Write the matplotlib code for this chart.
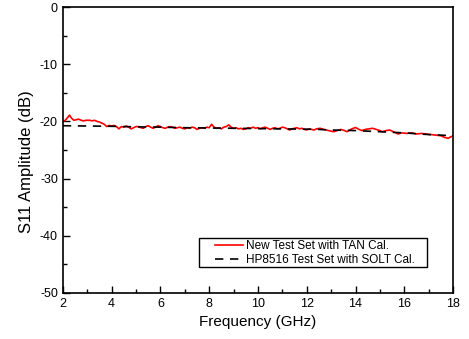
import matplotlib
matplotlib.use("Agg")
import matplotlib.pyplot as plt
from matplotlib.ticker import MultipleLocator
from matplotlib.patches import Rectangle

plt.rcParams['font.family'] = ['Liberation Sans', 'DejaVu Sans']
plt.rcParams['axes.unicode_minus'] = False

freq_tan = [2.0, 2.1, 2.2, 2.27, 2.35, 2.45, 2.55, 2.65, 2.75, 2.85, 2.95, 3.1, 3.2, 3.3,
            3.4, 3.5, 3.6, 3.7, 3.8, 3.9, 4.0, 4.1, 4.2, 4.3, 4.4, 4.5, 4.6, 4.7, 4.8, 4.9,
            5.0, 5.1, 5.2, 5.3, 5.4, 5.5, 5.6, 5.7, 5.8, 5.9, 6.0, 6.1, 6.2, 6.3, 6.4, 6.5,
            6.6, 6.7, 6.8, 6.9, 7.0, 7.1, 7.2, 7.3, 7.4, 7.5, 7.6, 7.7, 7.8, 7.9, 8.0, 8.1,
            8.2, 8.3, 8.4, 8.5, 8.6, 8.7, 8.8, 8.9, 9.0, 9.1, 9.2, 9.3, 9.4, 9.5, 9.6, 9.7,
            9.8, 9.9, 10.0, 10.1, 10.2, 10.3, 10.4, 10.5, 10.6, 10.7, 10.8, 10.9, 11.0,
            11.1, 11.2, 11.3, 11.4, 11.5, 11.6, 11.7, 11.8, 11.9, 12.0, 12.1, 12.2, 12.3,
            12.4, 12.55, 12.7, 12.9, 13.1, 13.25, 13.4, 13.55, 13.65, 13.8, 14.0, 14.1,
            14.25, 14.4, 14.55, 14.7, 14.85, 15.0, 15.1, 15.25, 15.4, 15.55, 15.75, 15.9,
            16.1, 16.3, 16.5, 16.7, 16.9, 17.1, 17.3, 17.5, 17.65, 17.8, 17.9, 18.0]
s11_tan = [-20.0, -19.8, -19.3, -18.9, -19.4, -19.8, -19.7, -19.6, -19.8, -19.9, -19.8,
           -19.8, -19.9, -19.8, -20.0, -20.1, -20.3, -20.5, -20.9, -20.7, -20.8, -20.7,
           -20.9, -21.3, -20.9, -21.0, -20.8, -21.0, -21.3, -21.1, -20.9, -20.9, -21.1,
           -21.2, -20.9, -20.75, -21.0, -21.2, -21.0, -20.75, -20.9, -21.1, -21.2, -21.0,
           -20.9, -21.0, -21.2, -21.1, -21.0, -21.2, -21.3, -21.1, -21.2, -21.0, -21.1,
           -21.4, -21.2, -21.1, -21.2, -21.0, -21.1, -20.5, -21.0, -21.2, -21.1, -21.3,
           -21.0, -20.9, -20.6, -21.0, -21.2, -21.1, -21.3, -21.2, -21.4, -21.3, -21.1,
           -21.2, -21.0, -21.2, -21.1, -21.3, -21.1, -21.0, -21.2, -21.4, -21.2, -21.1,
           -21.3, -21.2, -21.0, -21.1, -21.3, -21.5, -21.3, -21.2, -21.1, -21.3, -21.2,
           -21.4, -21.5, -21.3, -21.4, -21.5, -21.3, -21.2, -21.4, -21.6, -21.8, -21.6,
           -21.4, -21.6, -21.8, -21.4, -21.05, -21.3, -21.6, -21.4, -21.3, -21.2, -21.4,
           -21.6, -21.8, -21.6, -21.5, -21.8, -22.2, -22.0, -22.1, -22.0, -22.2, -22.1,
           -22.2, -22.3, -22.4, -22.5, -22.8, -22.95, -22.7, -22.55]

freq_solt = [2.0, 3.0, 4.0, 5.0, 6.0, 7.0, 8.0, 9.0, 10.0, 11.0, 12.0, 12.5, 13.0, 14.0,
             15.0, 16.0, 17.0, 18.0]
s11_solt = [-20.75, -20.8, -20.85, -20.95, -21.0, -21.1, -21.15, -21.2, -21.25, -21.3,
            -21.35, -21.4, -21.5, -21.6, -21.8, -22.0, -22.3, -22.5]

fig = plt.figure(figsize=(4.69, 3.39), dpi=100)
ax = fig.add_axes([0.134, 0.136, 0.832, 0.843])

ax.plot(freq_tan, s11_tan, color='#ff0000', lw=1.2, label='New Test Set with TAN Cal.')
ax.plot(freq_solt, s11_solt, color='black', lw=1.2, ls=(0, (5, 4)),
        label='HP8516 Test Set with SOLT Cal.')

ax.set_xlim(2, 18)
ax.set_ylim(-50, 0)
ax.xaxis.set_major_locator(MultipleLocator(2))
ax.xaxis.set_minor_locator(MultipleLocator(1))
ax.yaxis.set_major_locator(MultipleLocator(10))
ax.yaxis.set_minor_locator(MultipleLocator(5))
ax.tick_params(which='both', direction='in', labelsize=9, width=1)
ax.tick_params(which='major', length=5)
ax.tick_params(which='minor', length=3)
for sp in ax.spines.values():
    sp.set_linewidth(1.2)

ax.set_xlabel('Frequency (GHz)', fontsize=11, labelpad=4)
ax.set_ylabel('S11 Amplitude (dB)', fontsize=12)
ax.yaxis.set_label_coords(-0.075, 0.46)

# legend frame
ax.add_patch(Rectangle((0.349, 0.091), 0.584, 0.101, transform=ax.transAxes,
                       facecolor='white', edgecolor='black', lw=1.0, zorder=4))
leg = ax.legend(loc='upper left', bbox_to_anchor=(0.39, 0.186), fontsize=8.5,
                frameon=False, handlelength=2.4, borderpad=0, borderaxespad=0,
                labelspacing=0.2, handletextpad=0.2)
leg.set_zorder(5)

fig.savefig('out.png', dpi=100)
